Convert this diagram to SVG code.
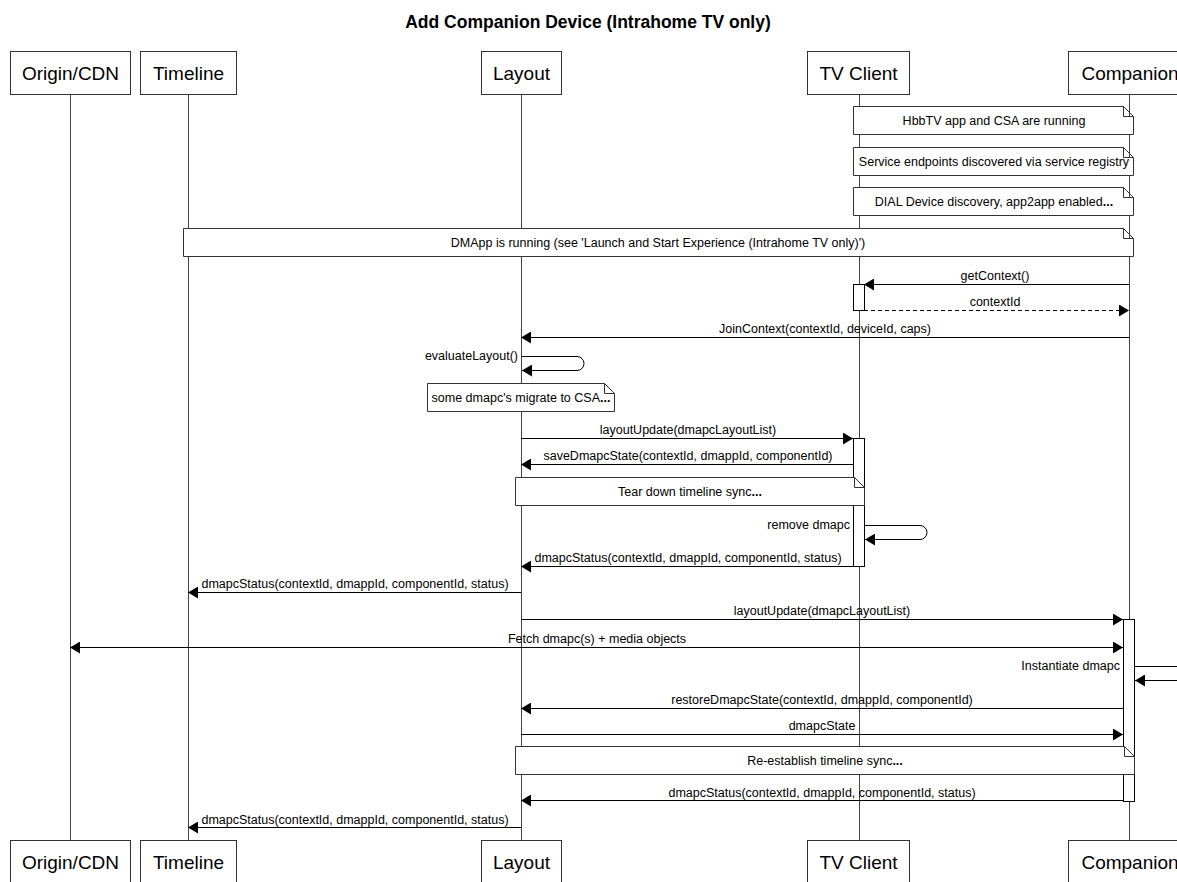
<svg xmlns="http://www.w3.org/2000/svg" width="1177" height="882" viewBox="0 0 1177 882">
  <defs>
    <style>
      text { font-family: "Liberation Sans", Arial, sans-serif; fill: #000; }
      .title { font-size: 17.5px; font-weight: bold; text-anchor: middle; }
      .actor rect { fill: #fff; stroke: #333; stroke-width: 1; }
      .actor text { font-size: 19px; text-anchor: middle; }
      .life { stroke: #444; stroke-width: 1; fill: none; }
      .msg { stroke: #000; stroke-width: 1; fill: none; }
      .dash { stroke-dasharray: 4 3; }
      .lbl { font-size: 12.5px; text-anchor: middle; }
      .lbl-r { font-size: 12.5px; text-anchor: end; }
      .note path { fill: #fff; stroke: #333; stroke-width: 1; }
      .note text { font-size: 12.5px; text-anchor: middle; }
      .act { fill: #fff; stroke: #000; stroke-width: 1; }
    </style>
    <marker id="arrow" viewBox="0 0 10 12" refX="10" refY="6" markerWidth="10" markerHeight="12" markerUnits="userSpaceOnUse" orient="auto-start-reverse">
      <path d="M0,0 L10,6 L0,12 Z" fill="#000"/>
    </marker>
  </defs>

  <rect width="1177" height="882" fill="#fff"/>

  <text class="title" x="588" y="28">Add Companion Device (Intrahome TV only)</text>

  <!-- lifelines -->
  <g id="lifelines">
    <line class="life" x1="70.5" y1="95" x2="70.5" y2="840"/>
    <line class="life" x1="188.5" y1="95" x2="188.5" y2="840"/>
    <line class="life" x1="521.5" y1="95" x2="521.5" y2="840"/>
    <line class="life" x1="859.5" y1="95" x2="859.5" y2="840"/>
    <line class="life" x1="1129.5" y1="95" x2="1129.5" y2="840"/>
  </g>

  <!-- participants, top and bottom -->
  <g id="origin" class="actor">
    <rect x="10.5" y="51.5" width="120" height="43"/>
    <text x="70.5" y="80">Origin/CDN</text>
    <rect x="10.5" y="840.5" width="120" height="43"/>
    <text x="70.5" y="869">Origin/CDN</text>
  </g>
  <g id="timeline" class="actor">
    <rect x="140.5" y="51.5" width="96" height="43"/>
    <text x="188.5" y="80">Timeline</text>
    <rect x="140.5" y="840.5" width="96" height="43"/>
    <text x="188.5" y="869">Timeline</text>
  </g>
  <g id="layout" class="actor">
    <rect x="481.5" y="51.5" width="80" height="43"/>
    <text x="521.5" y="80">Layout</text>
    <rect x="481.5" y="840.5" width="80" height="43"/>
    <text x="521.5" y="869">Layout</text>
  </g>
  <g id="tvclient" class="actor">
    <rect x="807.5" y="51.5" width="102" height="43"/>
    <text x="858.5" y="80">TV Client</text>
    <rect x="807.5" y="840.5" width="102" height="43"/>
    <text x="858.5" y="869">TV Client</text>
  </g>
  <g id="companion" class="actor">
    <rect x="1068.5" y="51.5" width="124" height="43"/>
    <text x="1130" y="80">Companion</text>
    <rect x="1068.5" y="840.5" width="124" height="43"/>
    <text x="1130" y="869">Companion</text>
  </g>

  <!-- activation bars -->
  <g id="activations">
    <rect class="act" x="853.5" y="284.5" width="11" height="26"/>
    <rect class="act" x="853.5" y="438.5" width="11" height="128"/>
    <rect class="act" x="1123.5" y="619.5" width="11" height="182"/>
  </g>

  <!-- notes -->
  <g id="note-running" class="note">
    <path d="M853.5,106.5 H1123.5 L1133.5,116.5 V134.5 H853.5 Z M1123.5,106.5 V116.5 H1133.5"/>
    <text x="994" y="125">HbbTV app and CSA are running</text>
  </g>
  <g id="note-endpoints" class="note">
    <path d="M853.5,147.5 H1123.5 L1133.5,157.5 V175.5 H853.5 Z M1123.5,147.5 V157.5 H1133.5"/>
    <text x="994" y="166">Service endpoints discovered via service registry</text>
  </g>
  <g id="note-dial" class="note">
    <path d="M853.5,187.5 H1123.5 L1133.5,197.5 V215.5 H853.5 Z M1123.5,187.5 V197.5 H1133.5"/>
    <text x="994" y="206">DIAL Device discovery, app2app enabled<tspan font-weight="bold">...</tspan></text>
  </g>
  <g id="note-dmapp" class="note">
    <path d="M183.5,228.5 H1123.5 L1133.5,238.5 V256.5 H183.5 Z M1123.5,228.5 V238.5 H1133.5"/>
    <text x="658" y="247">DMApp is running (see 'Launch and Start Experience (Intrahome TV only)')</text>
  </g>
  <g id="note-migrate" class="note">
    <path d="M427.5,383.5 H604.5 L614.5,393.5 V411.5 H427.5 Z M604.5,383.5 V393.5 H614.5"/>
    <text x="521" y="402">some dmapc's migrate to CSA<tspan font-weight="bold">...</tspan></text>
  </g>
  <g id="note-teardown" class="note">
    <path d="M515.5,477.5 H854.5 L864.5,487.5 V505.5 H515.5 Z M854.5,477.5 V487.5 H864.5"/>
    <text x="690" y="496">Tear down timeline sync<tspan font-weight="bold">...</tspan></text>
  </g>
  <g id="note-reestablish" class="note">
    <path d="M515.5,746.5 H1124.5 L1134.5,756.5 V774.5 H515.5 Z M1124.5,746.5 V756.5 H1134.5"/>
    <text x="825" y="765">Re-establish timeline sync<tspan font-weight="bold">...</tspan></text>
  </g>

  <!-- messages -->
  <g id="connectors">
    <line class="msg" x1="1129" y1="284.5" x2="864" y2="284.5" marker-end="url(#arrow)"/>
    <text class="lbl" x="995" y="280">getContext()</text>

    <line class="msg dash" x1="864" y1="310.5" x2="1129" y2="310.5" marker-end="url(#arrow)"/>
    <text class="lbl" x="995" y="306">contextId</text>

    <line class="msg" x1="1129" y1="337.5" x2="521" y2="337.5" marker-end="url(#arrow)"/>
    <text class="lbl" x="825" y="333">JoinContext(contextId, deviceId, caps)</text>

    <path class="msg" d="M521.5,356.5 H577 A7,7 0 0 1 584,363.5 A7,7 0 0 1 577,370.5 H522" marker-end="url(#arrow)"/>
    <text class="lbl-r" x="518" y="360">evaluateLayout()</text>

    <line class="msg" x1="521" y1="438.5" x2="853" y2="438.5" marker-end="url(#arrow)"/>
    <text class="lbl" x="688" y="434">layoutUpdate(dmapcLayoutList)</text>

    <line class="msg" x1="853" y1="464.5" x2="521" y2="464.5" marker-end="url(#arrow)"/>
    <text class="lbl" x="688" y="460">saveDmapcState(contextId, dmappId, componentId)</text>

    <path class="msg" d="M864.5,525.5 H920 A7,7 0 0 1 927,532.5 A7,7 0 0 1 920,539.5 H865" marker-end="url(#arrow)"/>
    <text class="lbl-r" x="850" y="529">remove dmapc</text>

    <line class="msg" x1="853" y1="566.5" x2="521" y2="566.5" marker-end="url(#arrow)"/>
    <text class="lbl" x="688" y="562">dmapcStatus(contextId, dmappId, componentId, status)</text>

    <line class="msg" x1="521" y1="592.5" x2="188" y2="592.5" marker-end="url(#arrow)"/>
    <text class="lbl" x="355" y="588">dmapcStatus(contextId, dmappId, componentId, status)</text>

    <line class="msg" x1="521" y1="619.5" x2="1123" y2="619.5" marker-end="url(#arrow)"/>
    <text class="lbl" x="822" y="615">layoutUpdate(dmapcLayoutList)</text>

    <line class="msg" x1="70" y1="647.5" x2="1123" y2="647.5" marker-start="url(#arrow)" marker-end="url(#arrow)"/>
    <text class="lbl" x="597" y="643">Fetch dmapc(s) + media objects</text>

    <path class="msg" d="M1134.5,666.5 H1185 M1185,680.5 H1135" marker-end="url(#arrow)"/>
    <text class="lbl-r" x="1120" y="670">Instantiate dmapc</text>

    <line class="msg" x1="1123" y1="708.5" x2="521" y2="708.5" marker-end="url(#arrow)"/>
    <text class="lbl" x="822" y="704">restoreDmapcState(contextId, dmappId, componentId)</text>

    <line class="msg" x1="521" y1="734.5" x2="1123" y2="734.5" marker-end="url(#arrow)"/>
    <text class="lbl" x="822" y="730">dmapcState</text>

    <line class="msg" x1="1123" y1="800.5" x2="521" y2="800.5" marker-end="url(#arrow)"/>
    <text class="lbl" x="822" y="797">dmapcStatus(contextId, dmappId, componentId, status)</text>

    <line class="msg" x1="521" y1="827.5" x2="188" y2="827.5" marker-end="url(#arrow)"/>
    <text class="lbl" x="355" y="824">dmapcStatus(contextId, dmappId, componentId, status)</text>
  </g>
</svg>
